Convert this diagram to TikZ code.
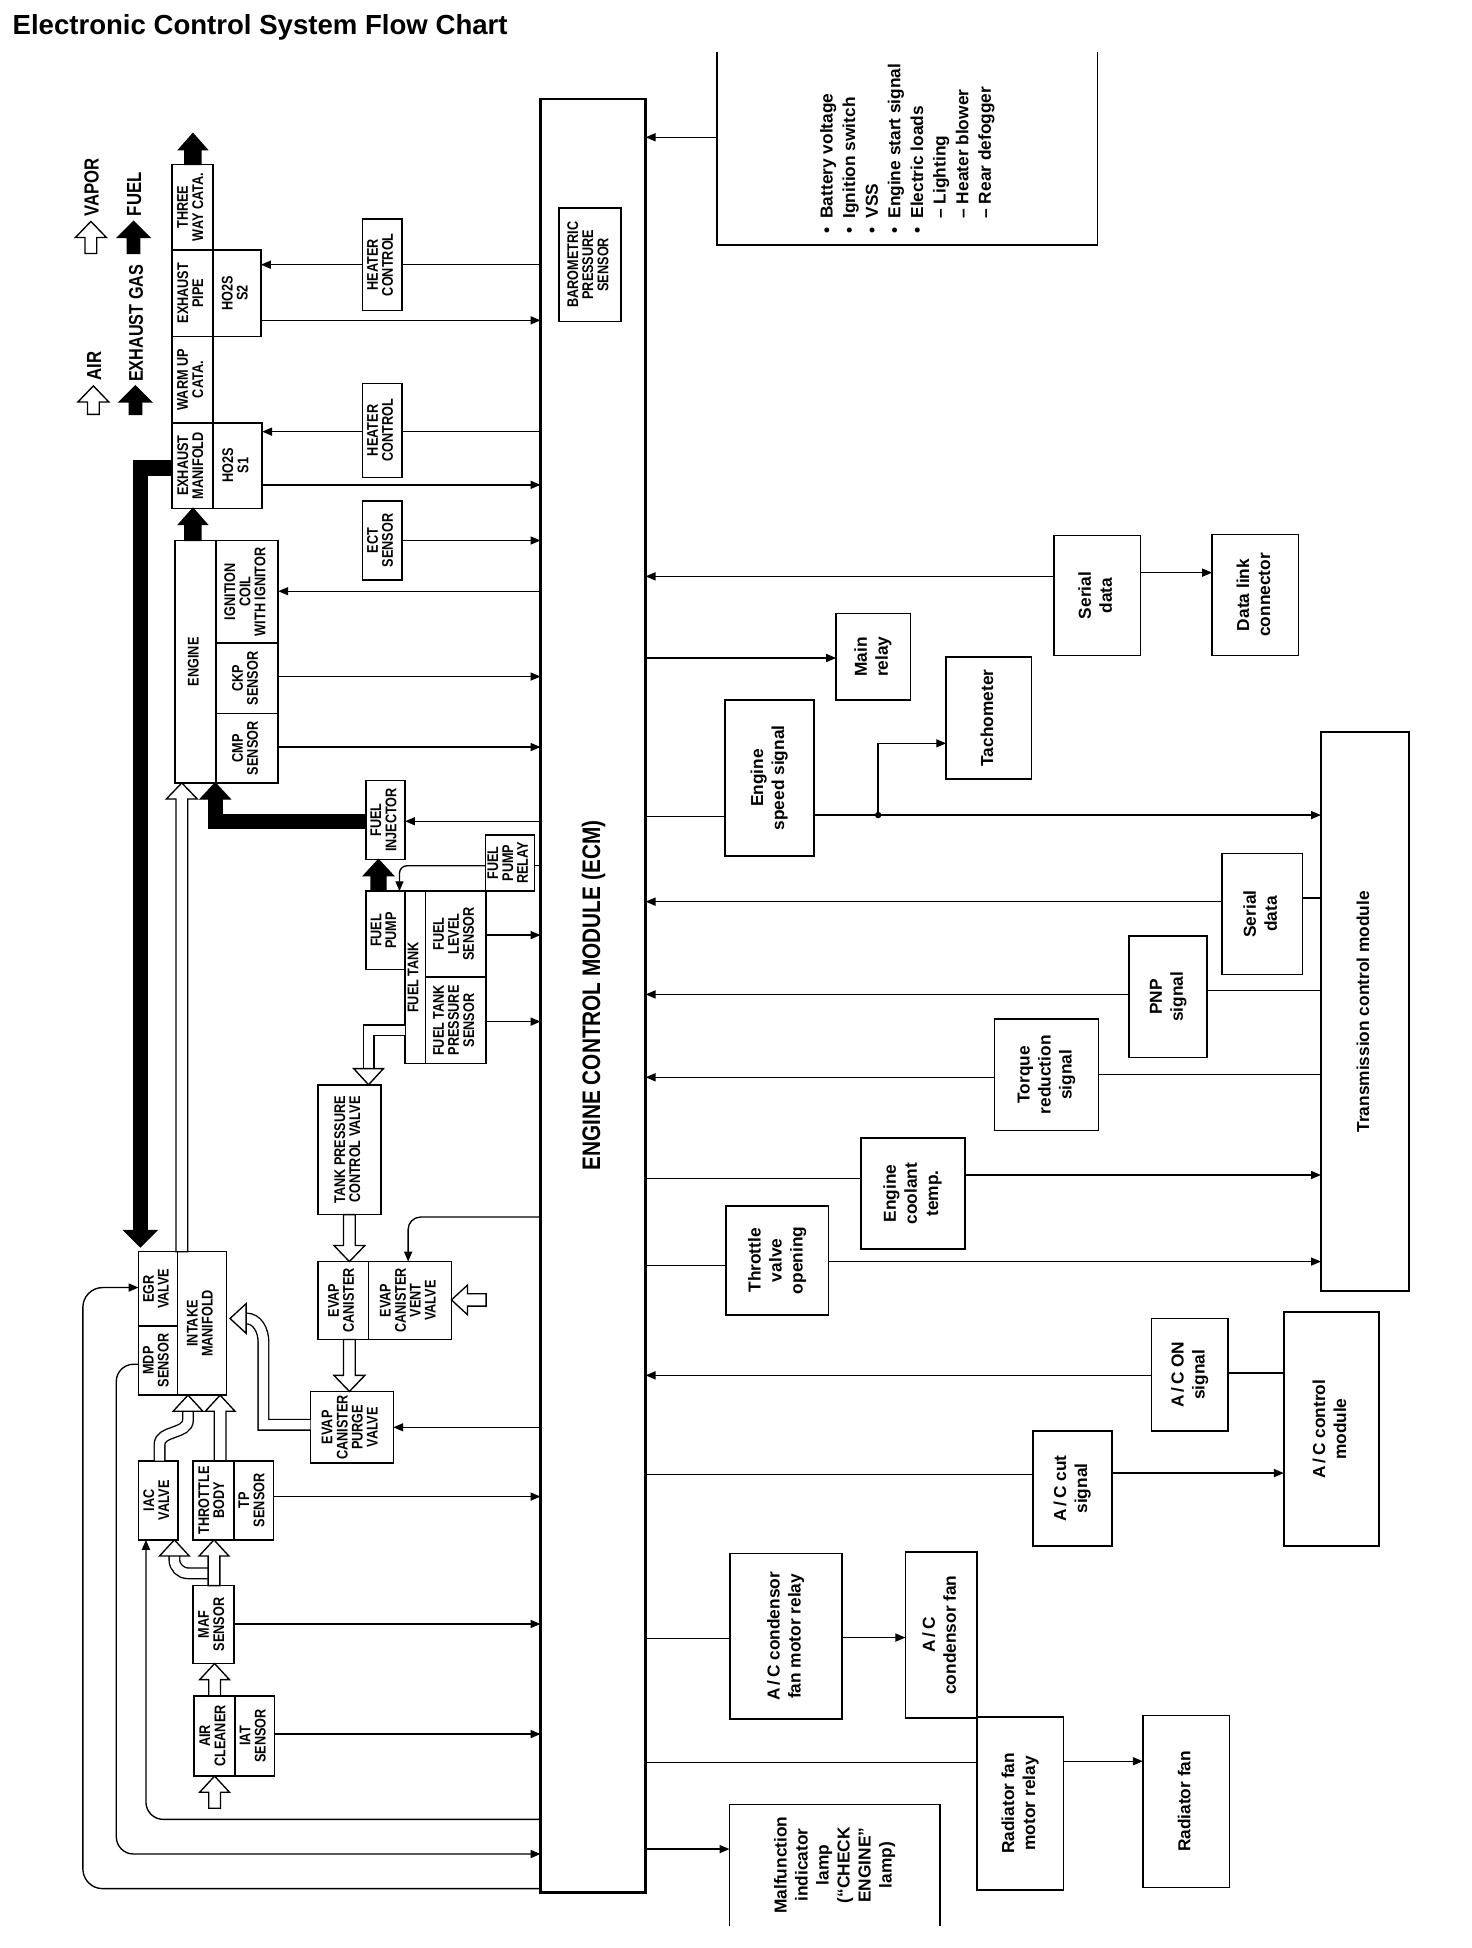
\documentclass[tikz,border=0pt]{standalone}
\usepackage{fontspec}
\usepackage{graphicx}
\setmainfont{Liberation Sans}
\newfontfamily\cnd[FakeStretch=0.82]{Liberation Sans}
\usetikzlibrary{arrows.meta}
\newcommand\rt[1]{\rotatebox{90}{\begin{tabular}{@{}c@{}}#1\end{tabular}}}
\newcommand\labS[1]{{\cnd\bfseries\fontsize{12.5}{11.6}\selectfont\rt{#1}}}
\newcommand\labR[1]{{\bfseries\fontsize{14}{17}\selectfont\rt{#1}}}
\newcommand\lgd{\cnd\bfseries\fontsize{16.5}{16.5}\selectfont}
\newcommand\bx[7][]{\node[box,#1,minimum width={#5-#3},minimum height={#6-#4}] (#2) at ({(#3+#5)/2},{(#4+#6)/2}) {#7};}
\newcommand\arU[6]{\filldraw[hd,fill=#1] (#2,#3) -- ({#2+#6},{#3+13}) -- ({#2+#5},{#3+13}) -- ({#2+#5},#4) -- ({#2-#5},#4) -- ({#2-#5},{#3+13}) -- ({#2-#6},{#3+13}) -- cycle;}
\newcommand\arD[6]{\filldraw[hd,fill=#1] (#2,#3) -- ({#2+#6},{#3-13}) -- ({#2+#5},{#3-13}) -- ({#2+#5},#4) -- ({#2-#5},#4) -- ({#2-#5},{#3-13}) -- ({#2-#6},{#3-13}) -- cycle;}
\newcommand\arL[6]{\filldraw[hd,fill=#1] (#2,#3) -- ({#2+13},{#3-#6}) -- ({#2+13},{#3-#5}) -- (#4,{#3-#5}) -- (#4,{#3+#5}) -- ({#2+13},{#3+#5}) -- ({#2+13},{#3+#6}) -- cycle;}
\newcommand\tU[4]{\filldraw[hd,fill=#1] (#2,#3) -- ({#2+#4},{#3+13}) -- ({#2-#4},{#3+13}) -- cycle;}
\newcommand\tD[4]{\filldraw[hd,fill=#1] (#2,#3) -- ({#2+#4},{#3-13}) -- ({#2-#4},{#3-13}) -- cycle;}
\newcommand\tL[4]{\filldraw[hd,fill=#1] (#2,#3) -- ({#2+13},{#3-#4}) -- ({#2+13},{#3+#4}) -- cycle;}
\begin{document}
\begin{tikzpicture}[x=1pt,y=-1pt,
  box/.style={draw,line width=1.3pt,inner sep=0pt,outer sep=0pt},
  sig/.style={line width=1.1pt},
  arr/.style={sig,-{Triangle[length=8pt,width=6.5pt]}},
  wsh/.style={draw=black,line width=1.1pt,double=white,double distance=7.5pt},
  bsh/.style={draw=black,line width=12pt,line join=miter},
  hd/.style={line width=1.1pt,line join=miter,draw=black}]
\fill[white] (0,0) rectangle (1190,1575);
\useasboundingbox (0,0) rectangle (1190,1575);

% title
\node[anchor=base west,inner sep=0] (title) at (10,28) {\bfseries\fontsize{22.3}{22}\selectfont Electronic Control System Flow Chart};

% legend
\arU{white}{73.5}{179}{205}{4.75}{12.5}
\node[rotate=90,anchor=west,inner sep=0,font=\lgd] (lvap) at (74,175) {VAPOR};
\arU{black}{108}{179}{205}{5}{13}
\node[rotate=90,anchor=west,inner sep=0,font=\lgd] (lfuel) at (108.5,175) {FUEL};
\arU{white}{75.5}{312}{335}{4.75}{12.5}
\node[rotate=90,anchor=west,inner sep=0,font=\lgd] (lair) at (76,308) {AIR};
\arU{black}{109.5}{312}{335}{5}{13}
\node[rotate=90,anchor=west,inner sep=0,font=\cnd\bfseries\fontsize{16}{16}\selectfont] (lexh) at (110,309) {EXHAUST GAS};

% ECM
\bx[line width=2pt]{ecm}{437}{80}{522}{1530}{}
\node[rotate=90,inner sep=0] (ecmlab) at (480,805) {\cnd\bfseries\fontsize{20.5}{20}\selectfont ENGINE CONTROL MODULE (ECM)};
\bx{baro}{452}{168}{502}{260}{\labS{BAROMETRIC\\PRESSURE\\SENSOR}}

% exhaust column
\bx{tw}{139}{133}{172}{202}{\labS{THREE\\WAY CATA.}}
\bx{ep}{139}{202}{172}{272}{\labS{EXHAUST\\PIPE}}
\bx{s2}{172}{202}{211}{272}{\labS{HO2S\\S2}}
\bx{wu}{139}{272}{172}{342}{\labS{WARM UP\\CATA.}}
\bx{em}{139}{342}{172}{411}{\labS{EXHAUST\\MANIFOLD}}
\bx{s1}{172}{342}{212}{411}{\labS{HO2S\\S1}}
\arU{black}{156}{108}{133}{6.5}{11.5}
\arU{black}{156}{411}{437}{6.5}{11.5}

\bx{hc2}{293}{177}{325}{251}{\labS{HEATER\\CONTROL}}
\bx{hc1}{293}{310}{325}{386}{\labS{HEATER\\CONTROL}}
\bx{ect}{293}{405}{325}{469}{\labS{ECT\\SENSOR}}

% engine
\bx{eng}{141.5}{437}{174.5}{633}{\labS{ENGINE}}
\bx{coil}{174.5}{437}{225}{520}{\labS{IGNITION\\COIL\\WITH IGNITOR}}
\bx{ckp}{174.5}{520}{225}{577}{\labS{CKP\\SENSOR}}
\bx{cmp}{174.5}{577}{225}{633}{\labS{CMP\\SENSOR}}

% fuel system
\bx{inj}{296}{631}{327.5}{695}{\labS{FUEL\\INJECTOR}}
\bx{fpr}{392.5}{675}{432}{720.5}{\labS{FUEL\\PUMP\\RELAY}}
\bx{pump}{296}{720.5}{327.5}{784}{\labS{FUEL\\PUMP}}
\bx{tank}{327.5}{720.5}{344}{860}{\labS{FUEL TANK}}
\bx{lvl}{344}{720.5}{393}{790}{\labS{FUEL\\LEVEL\\SENSOR}}
\bx{tps}{344}{790}{393}{860}{\labS{FUEL TANK\\PRESSURE\\SENSOR}}
\bx{tpcv}{257}{877}{308}{982}{\labS{TANK PRESSURE\\CONTROL VALVE}}
\bx{can}{257}{1020}{298}{1083}{\labS{EVAP\\CANISTER}}
\bx{vent}{298}{1020}{365}{1083}{\labS{EVAP\\CANISTER\\VENT\\VALVE}}
\bx{purge}{251}{1125}{318}{1183}{\labS{EVAP\\CANISTER\\PURGE\\VALVE}}

% intake
\bx{egr}{112}{1012}{143.5}{1072}{\labS{EGR\\VALVE}}
\bx{mdp}{112}{1072}{143.5}{1128}{\labS{MDP\\SENSOR}}
\bx{im}{143.5}{1012}{183}{1128}{\labS{INTAKE\\MANIFOLD}}
\bx{iac}{112}{1181}{144}{1245}{\labS{IAC\\VALVE}}
\bx{tb}{156}{1181}{189}{1245}{\labS{THROTTLE\\BODY}}
\bx{tp}{189}{1181}{221}{1245}{\labS{TP\\SENSOR}}
\bx{maf}{156}{1282}{189}{1345}{\labS{MAF\\SENSOR}}
\bx{acl}{157}{1371}{190}{1436}{\labS{AIR\\CLEANER}}
\bx{iat}{190}{1371}{222}{1436}{\labS{IAT\\SENSOR}}

% black flows
\draw[bsh,line width=12.5pt] (em.west |- 0,378.5) -- (113.5,378.5) -- (113.5,995);
\tD{black}{113.5}{1008}{13}
\draw[bsh] (inj.west |- 0,664) -- (174,664) -- (174,646);
\tU{black}{174}{633}{12}
\arU{black}{306}{695}{720.5}{6}{12}

% white flows
\arU{white}{147}{633}{1012}{4.75}{12.5}
\draw[wsh] (tank.west |- 0,833) -- (298,833) -- (298,865);
\tD{white}{298}{877}{12}
\arD{white}{282.5}{1020}{982}{4.75}{12.5}
\arD{white}{282.5}{1125}{1083}{4.75}{12.5}
\arL{white}{365}{1051}{393}{5}{12}
\draw[wsh] (purge.west |- 0,1152) -- (213,1152) -- (213,1085) to[out=90,in=0] (199,1066);
\tL{white}{186}{1066}{12}
\draw[wsh] (129,1181) -- (129,1168) to[out=90,in=-90] (152,1148) -- (152,1140);
\tU{white}{152}{1128}{12}
\arU{white}{178}{1128}{1181}{4.75}{12}
\draw[wsh] (172,1272) -- (152,1272) to[out=180,in=-90] (141,1261) -- (141,1257);
\tU{white}{141}{1245}{12}
\arU{white}{173}{1245}{1282}{4.75}{12}
\arU{white}{173.5}{1345}{1371}{4.75}{12}
\arU{white}{173.5}{1436}{1462}{4.75}{12}

% left signal lines
\draw[sig] (ecm.west |- 0,214) -- (hc2.east |- 0,214);
\draw[arr] (hc2.west |- 0,214) -- (s2.east |- 0,214);
\draw[arr] (s2.east |- 0,259) -- (ecm.west |- 0,259);
\draw[sig] (ecm.west |- 0,349) -- (hc1.east |- 0,349);
\draw[arr] (hc1.west |- 0,349) -- (s1.east |- 0,349);
\draw[arr] (s1.east |- 0,392) -- (ecm.west |- 0,392);
\draw[arr] (ect.east |- 0,437) -- (ecm.west |- 0,437);
\draw[arr] (ecm.west |- 0,478) -- (coil.east |- 0,478);
\draw[arr] (ckp.east |- 0,547) -- (ecm.west |- 0,547);
\draw[arr] (cmp.east |- 0,604) -- (ecm.west |- 0,604);
\draw[arr] (ecm.west |- 0,664) -- (inj.east |- 0,664);
\draw[sig] (ecm.west |- 0,700) -- (fpr.east |- 0,700);
\draw[arr,rounded corners=6pt] (fpr.west |- 0,700) -- (323,700) -- (pump.north -| 323,0);
\draw[arr] (lvl.east |- 0,756) -- (ecm.west |- 0,756);
\draw[arr] (tps.east |- 0,826) -- (ecm.west |- 0,826);
\draw[arr,rounded corners=10pt] (ecm.west |- 0,984) -- (330,984) -- (vent.north -| 330,0);
\draw[arr] (ecm.west |- 0,1154) -- (purge.east |- 0,1154);
\draw[arr] (tp.east |- 0,1210) -- (ecm.west |- 0,1210);
\draw[arr] (maf.east |- 0,1313) -- (ecm.west |- 0,1313);
\draw[arr] (iat.east |- 0,1402) -- (ecm.west |- 0,1402);
\draw[arr,rounded corners=14pt] (ecm.west |- 0,1471) -- (118,1471) -- (iac.south -| 118,0);
\draw[arr,rounded corners=14pt] (mdp.west |- 0,1103) -- (94,1103) -- (94,1499) -- (ecm.west |- 0,1499);
\draw[arr,rounded corners=16pt] (ecm.west |- 0,1527) -- (67,1527) -- (67,1041) -- (egr.west |- 0,1041);

% battery inputs
\node[inner sep=0,minimum width=307,minimum height=156] (bat) at (733.5,120) {\rotatebox{90}{\bfseries\fontsize{14}{18.3}\selectfont\begin{tabular}{@{}c@{\hspace{7pt}}l@{}}
\textbullet & Battery voltage\\
\textbullet & Ignition switch\\
\textbullet & VSS\\
\textbullet & Engine start signal\\
\textbullet & Electric loads\\
 & – Lighting\\
 & – Heater blower\\
 & – Rear defogger
\end{tabular}}};
\draw[line width=1.3pt] (bat.north west) -- (bat.south west) -- (bat.south east) -- (bat.north east);
\draw[arr] (bat.west |- 0,111) -- (ecm.east |- 0,111);

% right side boxes
\bx{sd1}{852}{433}{922}{530}{\labR{Serial\\data}}
\bx{dlc}{980}{432}{1050}{530}{\labR{Data link\\connector}}
\bx{mrel}{676}{496}{736}{566}{\labR{Main\\relay}}
\bx{tach}{765}{531}{834}{630}{\labR{Tachometer}}
\bx{ess}{586}{566}{658}{692}{\labR{Engine\\speed signal}}
\bx{tcm}{1068}{592}{1139}{1044}{\labR{Transmission control module}}
\bx{sd2}{988}{690}{1053}{788}{\labR{Serial\\data}}
\bx{pnp}{913}{757}{976}{855}{\labR{PNP\\signal}}
\bx{trq}{804}{824}{888}{914}{\labR{Torque\\reduction\\signal}}
\bx{ect2}{696}{920}{780}{1010}{\labR{Engine\\coolant\\temp.}}
\bx{tvo}{587}{975}{670}{1063}{\labR{Throttle\\valve\\opening}}
\bx{acon}{931}{1066}{993}{1157}{\labR{A\,/\,C ON\\signal}}
\bx{acm}{1038}{1061}{1115}{1250}{\labR{A\,/\,C control\\module}}
\bx{acc}{835}{1157}{899}{1250}{\labR{A\,/\,C cut\\signal}}
\bx{cfr}{590}{1256}{681}{1390}{\labR{A\,/\,C condensor\\fan motor relay}}
\bx{cf}{732}{1255}{790}{1389}{\labR{A\,/\,C\\condensor fan}}
\bx{rfr}{790}{1388}{860}{1528}{\labR{Radiator fan\\motor relay}}
\bx{rf}{924}{1387}{994}{1526}{\labR{Radiator fan}}
\node[inner sep=0,minimum width=170,minimum height=98] (mil) at (675,1508) {\labR{Malfunction\\indicator\\lamp\\(“CHECK\\ENGINE”\\lamp)}};
\draw[line width=1.3pt] (mil.south west) -- (mil.north west) -- (mil.north east) -- (mil.south east);

% right signal lines
\draw[arr] (sd1.west |- 0,466) -- (ecm.east |- 0,466);
\draw[arr] (sd1.east |- 0,463) -- (dlc.west |- 0,463);
\draw[arr] (ecm.east |- 0,532) -- (mrel.west |- 0,532);
\draw[sig] (ecm.east |- 0,660) -- (ess.west |- 0,660);
\draw[arr] (ess.east |- 0,659) -- (tcm.west |- 0,659);
\coordinate (jn) at (710,659);
\fill (jn) circle (2.6);
\draw[arr] (jn) -- (710,601) -- (tach.west |- 0,601);
\draw[arr] (sd2.west |- 0,729) -- (ecm.east |- 0,729);
\draw[sig] (sd2.east |- 0,726) -- (tcm.west |- 0,726);
\draw[arr] (pnp.west |- 0,804) -- (ecm.east |- 0,804);
\draw[sig] (pnp.east |- 0,801) -- (tcm.west |- 0,801);
\draw[arr] (trq.west |- 0,871) -- (ecm.east |- 0,871);
\draw[sig] (trq.east |- 0,869) -- (tcm.west |- 0,869);
\draw[sig] (ecm.east |- 0,953) -- (ect2.west |- 0,953);
\draw[arr] (ect2.east |- 0,950) -- (tcm.west |- 0,950);
\draw[sig] (ecm.east |- 0,1023) -- (tvo.west |- 0,1023);
\draw[arr] (tvo.east |- 0,1020) -- (tcm.west |- 0,1020);
\draw[arr] (acon.west |- 0,1112) -- (ecm.east |- 0,1112);
\draw[sig] (acon.east |- 0,1110) -- (acm.west |- 0,1110);
\draw[sig] (ecm.east |- 0,1192) -- (acc.west |- 0,1192);
\draw[arr] (acc.east |- 0,1191) -- (acm.west |- 0,1191);
\draw[sig] (ecm.east |- 0,1325) -- (cfr.west |- 0,1325);
\draw[arr] (cfr.east |- 0,1324) -- (cf.west |- 0,1324);
\draw[sig] (ecm.east |- 0,1425) -- (rfr.west |- 0,1425);
\draw[arr] (rfr.east |- 0,1424) -- (rf.west |- 0,1424);
\draw[arr] (ecm.east |- 0,1495) -- (mil.west |- 0,1495);
\end{tikzpicture}
\end{document}
